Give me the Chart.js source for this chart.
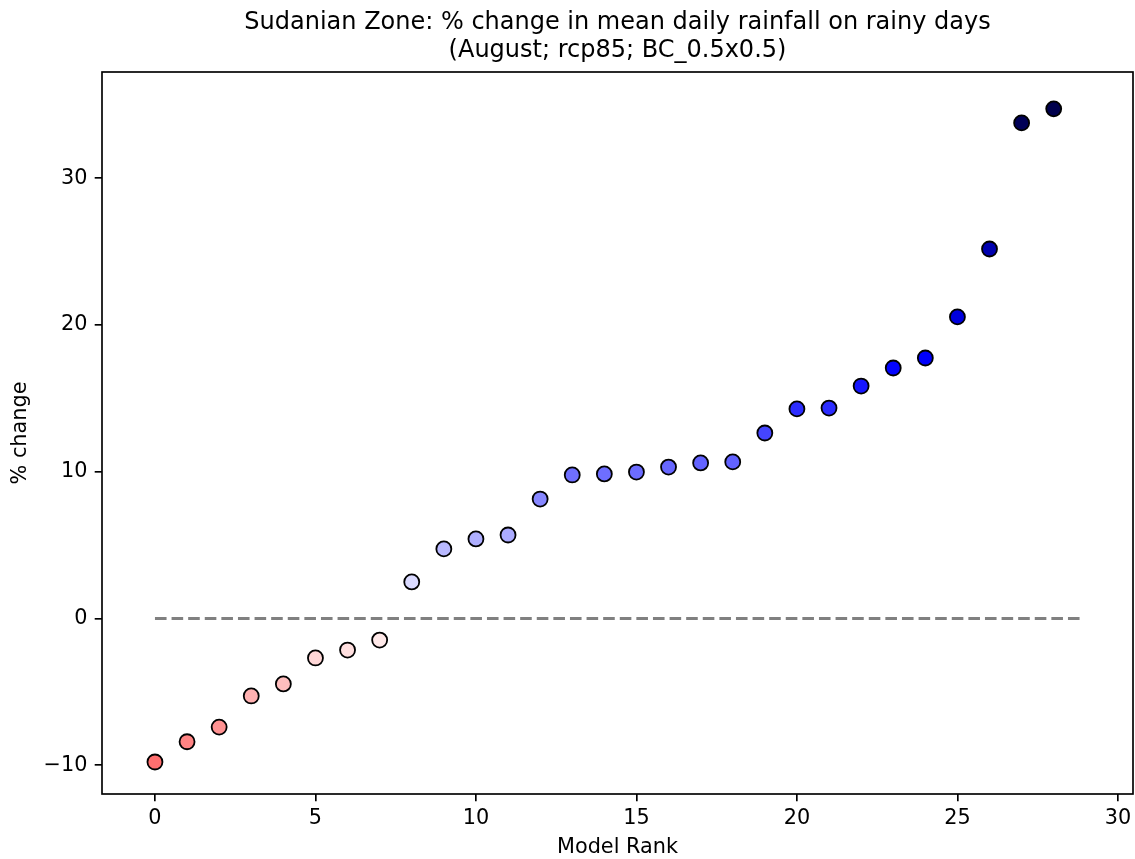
<!DOCTYPE html>
<html>
<head>
<meta charset="utf-8">
<script src="https://cdn.jsdelivr.net/npm/chart.js@4/dist/chart.umd.min.js"></script>
<style>
  html, body { margin: 0; padding: 0; background: #ffffff; }
  #wrap { width: 1135px; height: 859px; position: relative; }
</style>
</head>
<body>
<div id="wrap"><canvas id="c" width="1135" height="859"></canvas></div>
<script>
// ---- data ----
const modelRank = [0,1,2,3,4,5,6,7,8,9,10,11,12,13,14,15,16,17,18,19,20,21,22,23,24,25,26,27,28];
const pctChange = [-9.78,-8.40,-7.40,-5.28,-4.46,-2.69,-2.15,-1.47,2.49,4.74,5.42,5.69,8.14,9.78,9.85,9.98,10.32,10.60,10.67,12.64,14.28,14.34,15.84,17.07,17.75,20.55,25.18,33.77,34.73];
const zeroLineX = [0, 28.9];
const zeroLineY = [0, 0];
const xTickValues = [0,5,10,15,20,25,30];
const yTickValues = [-10,0,10,20,30];
const titleLines = ['Sudanian Zone: % change in mean daily rainfall on rainy days', '(August; rcp85; BC_0.5x0.5)'];

// seismic_r colormap, symmetric norm
const seismic = [[0,0,0.3],[0,0,1],[1,1,1],[1,0,0],[0.5,0,0]];
function seismicR(v, vmax) {
  let t = (v + vmax) / (2 * vmax);
  t = Math.min(1, Math.max(0, t));
  const s = 1 - t; // reversed
  const pos = s * 4;
  const i = Math.min(3, Math.floor(pos));
  const f = pos - i;
  const a = seismic[i], b = seismic[i+1];
  const c = a.map((x, k) => Math.round(255 * (x + (b[k] - x) * f)));
  return `rgb(${c[0]},${c[1]},${c[2]})`;
}
const vmax = Math.max(...pctChange.map(Math.abs));
const pointColors = pctChange.map(v => seismicR(v, vmax));

const FONT = "'DejaVu Sans', sans-serif";

const boxPlugin = {
  id: 'box',
  afterDatasetsDraw(chart) {
    const {ctx, chartArea: a} = chart;
    ctx.save();
    ctx.strokeStyle = '#000';
    ctx.lineWidth = 1.67;
    ctx.strokeRect(a.left, a.top, a.right - a.left, a.bottom - a.top);
    ctx.restore();
  }
};

new Chart(document.getElementById('c'), {
  type: 'scatter',
  data: {
    datasets: [
      {
        type: 'line',
        data: zeroLineX.map((x, i) => ({x, y: zeroLineY[i]})),
        borderColor: '#808080',
        borderWidth: 3,
        borderDash: [11.6, 5],
        pointRadius: 0,
        fill: false,
        order: 2
      },
      {
        data: modelRank.map((x, i) => ({x, y: pctChange[i]})),
        backgroundColor: pointColors,
        borderColor: '#000',
        borderWidth: 1.8,
        pointRadius: 7.5,
        pointHoverRadius: 7.5,
        order: 1
      }
    ]
  },
  options: {
    responsive: false,
    animation: false,
    events: [],
    layout: { autoPadding: false, padding: { left: 0, right: 2, top: 0, bottom: 0 } },
    plugins: {
      legend: { display: false },
      tooltip: { enabled: false },
      title: {
        display: true,
        fullSize: false,
        text: titleLines,
        color: '#000',
        font: { family: FONT, size: 24, weight: 'normal', lineHeight: 1.17 },
        padding: { top: 8.5, bottom: 7.34 }
      }
    },
    scales: {
      x: {
        type: 'linear',
        min: -1.65,
        max: 30.47,
        afterBuildTicks(scale) { scale.ticks = xTickValues.map(v => ({value: v})); },
        afterFit(scale) { scale.height = 65; scale.paddingLeft = 0; scale.paddingRight = 0; },
        ticks: { color: '#000', font: { family: FONT, size: 20.8 }, padding: 5, maxRotation: 0 },
        grid: { display: true, drawOnChartArea: false, drawTicks: true, tickLength: 7.3, color: '#000', lineWidth: 1.67 },
        border: { display: false },
        title: { display: true, text: 'Model Rank', color: '#000', font: { family: FONT, size: 20.8, lineHeight: 1.0 }, padding: { top: 0, bottom: 1 } }
      },
      y: {
        type: 'linear',
        min: -11.96,
        max: 37.24,
        afterBuildTicks(scale) { scale.ticks = yTickValues.map(v => ({value: v})); },
        afterFit(scale) { scale.width = 102; scale.paddingTop = 0; scale.paddingBottom = 0; },
        ticks: { color: '#000', font: { family: FONT, size: 20.8 }, padding: 7.3,
                 callback: v => (v < 0 ? '\u2212' + Math.abs(v) : String(v)) },
        grid: { display: true, drawOnChartArea: false, drawTicks: true, tickLength: 7.3, color: '#000', lineWidth: 1.67 },
        border: { display: false },
        title: { display: true, text: '% change', color: '#000', font: { family: FONT, size: 20.8, lineHeight: 1.0 }, padding: { top: 10, bottom: 10 } }
      }
    }
  },
  plugins: [boxPlugin]
});
</script>
</body>
</html>
